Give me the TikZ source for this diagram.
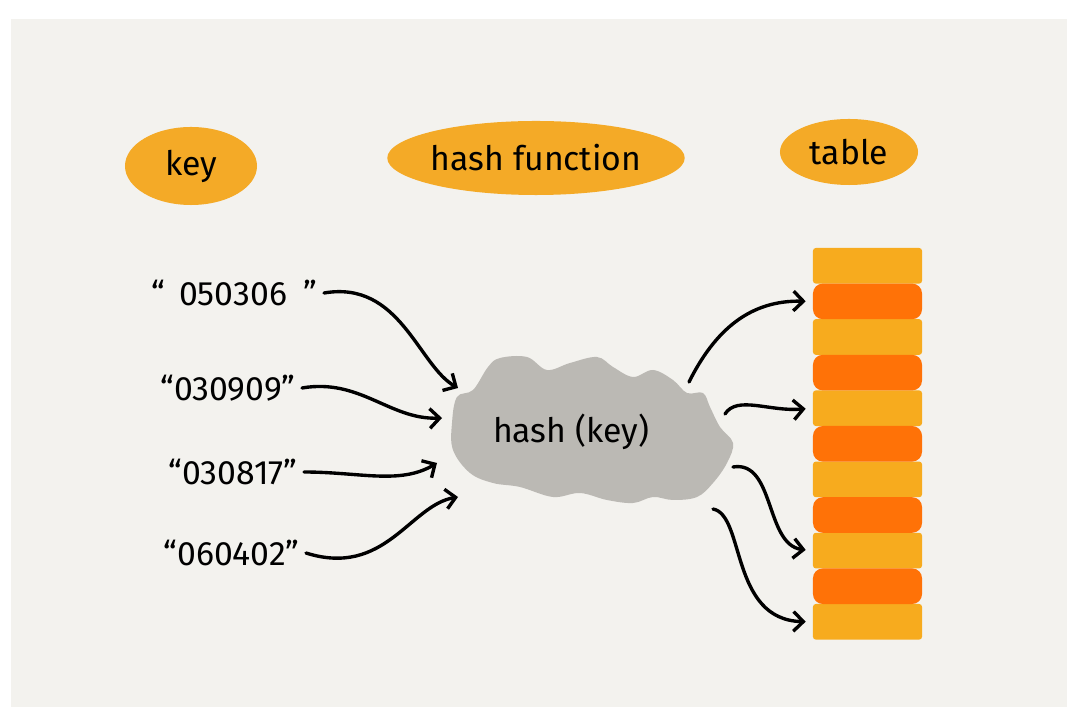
\documentclass[tikz,border=0pt]{standalone}
\usepackage{fontspec}
\setmainfont{Fira Sans}
\usepackage{tikz}
\usetikzlibrary{arrows.meta, shapes.geometric, calc, positioning}
\definecolor{paper}{HTML}{F3F2EE}
\definecolor{blobfill}{HTML}{F4AA27}
\definecolor{slotlight}{HTML}{F7AB1E}
\definecolor{slotdark}{HTML}{FF7207}
\definecolor{cloudgray}{HTML}{BBB9B4}

\begin{document}
\begin{tikzpicture}[x=0.025cm, y=-0.025cm, line width=2.4pt, line cap=round, line join=round,
  hand/.style={font=\fontsize{24}{28}\selectfont},
  tag/.style={ellipse, fill=blobfill, inner sep=0pt, hand},
  keytext/.style={anchor=east, hand},
  slot/.style={rectangle, minimum width=2.725cm, minimum height=0.89cm, inner sep=0pt, rounded corners=2pt},
  arr/.style={-{Straight Barb[length=7pt,width=14pt,line width=2.4pt]}}]
\useasboundingbox (0,0) rectangle (1067,707);
\fill[white] (0,0) rectangle (1067,707);
\fill[paper] (11,19) rectangle (1067,707);

% headers
\node[tag, minimum width=3.3cm,  minimum height=1.95cm] (key)   at (191,166) {key};
\node[tag, minimum width=6.8cm,  minimum height=1.85cm] (func)  at (536,158) {hash function};
\node[tag, minimum width=3.45cm, minimum height=1.65cm] (table) at (849,152) {table};

% keys
\node[keytext] (k1) at (324,293) {``\hspace{10pt}050306\hspace{12pt}''};
\node[keytext] (k2) at (302,388) {``030909''};
\node[keytext] (k3) at (304,472) {``030817''};
\node[keytext] (k4) at (306,553) {``060402''};

% hash cloud
\fill[cloudgray] plot[smooth cycle, tension=0.6] coordinates {
  (488,367) (500,358) (527,357) (547,370) (570,363) (597,357) (613,367) (633,377)
  (653,370) (673,380) (687,393) (703,393) (710,407) (720,427) (733,443) (727,463)
  (713,483) (697,497) (673,500) (653,497) (633,503) (607,500) (580,493) (553,497)
  (520,487) (493,483) (470,473) (453,450) (452,423) (457,397) (473,390)};
\node[hand] (hash) at (571,432) {hash (key)};
\coordinate (in1)  at (458,388);
\coordinate (in2)  at (442,418);
\coordinate (in3)  at (437,463);
\coordinate (in4)  at (458,497);
\coordinate (out1) at (689,382);
\coordinate (out2) at (725,414);
\coordinate (out3) at (733,467);
\coordinate (out4) at (713,509);

% table
\foreach \i in {0,2,...,10}
  \node[slot, fill=slotlight] (slot\i) at ({867.5},{265.8+35.6*\i}) {};
\foreach \i in {1,3,...,9}
  \node[slot, fill=slotdark, rounded corners=7pt] (slot\i) at ({867.5},{265.8+35.6*\i}) {};

% arrows
\draw[arr] (k1.east) .. controls (400,280) and (418,365) .. (in1);
\draw[arr] (k2.east) .. controls (360,378) and (390,420) .. (in2);
\draw[arr] (k3.east) .. controls (360,472) and (400,485) .. (in3);
\draw[arr] (k4.east) .. controls (385,578) and (410,505) .. (in4);
\draw[arr, shorten >=4pt] (out1) .. controls (715,330) and (750,300) .. (slot1.west);
\draw[arr, shorten >=4pt] (out2) .. controls (737,395) and (770,412) .. (slot4.west);
\draw[arr, shorten >=4pt] (out3) .. controls (775,460) and (765,545) .. (slot8.west);
\draw[arr, shorten >=4pt] (out4) .. controls (745,515) and (730,620) .. (slot10.west);
\end{tikzpicture}
\end{document}
